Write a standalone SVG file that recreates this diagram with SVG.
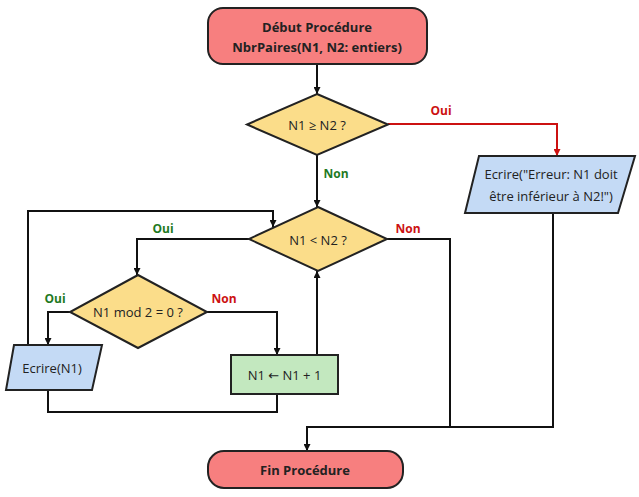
<svg xmlns="http://www.w3.org/2000/svg" width="639" height="497" viewBox="0 0 639 497">
<defs>
<marker id="ah" viewBox="0 0 10 10" refX="10" refY="5" markerWidth="7" markerHeight="7" orient="auto" markerUnits="userSpaceOnUse"><path d="M0,0 L10,5 L0,10 z" fill="#111"/></marker>
<marker id="ahr" viewBox="0 0 10 10" refX="10" refY="5" markerWidth="7" markerHeight="7" orient="auto" markerUnits="userSpaceOnUse"><path d="M0,0 L10,5 L0,10 z" fill="#cc1111"/></marker>
</defs>
<style>
text{font-family:"Open Sans","Noto Sans","DejaVu Sans",sans-serif;font-size:13px;fill:#222;text-anchor:middle;dominant-baseline:central}
.term{fill:#f77f7f;stroke:#222;stroke-width:2}
.dec{fill:#fbdd8a;stroke:#222;stroke-width:2}
.io{fill:#c4daf5;stroke:#222;stroke-width:2}
.proc{fill:#c3e8bf;stroke:#222;stroke-width:2}
.b{font-weight:bold}
.c{fill:none;stroke:#111;stroke-width:2}
.cr{fill:none;stroke:#cc1111;stroke-width:2}
.lg{fill:#1f7a1f;font-weight:bold;font-size:12px}
.lr{fill:#cc1111;font-weight:bold;font-size:12px}
</style>
<rect width="639" height="497" fill="#fff"/>
<g id="connectors">
<path class="c" d="M317,64 V94" marker-end="url(#ah)"/>
<path class="cr" d="M388,124 H557 V156" marker-end="url(#ahr)"/>
<path class="c" d="M317,155 V207" marker-end="url(#ah)"/>
<path class="c" d="M249,239 H137 V275" marker-end="url(#ah)"/>
<path class="c" d="M70,312 H48 V345" marker-end="url(#ah)"/>
<path class="c" d="M207,312 H277 V355" marker-end="url(#ah)"/>
<path class="c" d="M28,345 V211 H273 V227" marker-end="url(#ah)"/>
<path class="c" d="M48,390 V412 H277 V395"/>
<path class="c" d="M317,355 V271" marker-end="url(#ah)"/>
<path class="c" d="M387,239 H450 V427"/>
<path class="c" d="M553,213 V427 H307 V451" marker-end="url(#ah)"/>
<text class="lr" x="441" y="110">Oui</text>
<text class="lg" x="336" y="173">Non</text>
<text class="lr" x="408" y="228">Non</text>
<text class="lg" x="163" y="228">Oui</text>
<text class="lg" x="55" y="298">Oui</text>
<text class="lr" x="224" y="298">Non</text>
</g>
<g id="start">
<rect class="term" x="208" y="8" width="219" height="56" rx="15"/>
<text class="b" x="317" y="27">Début Procédure</text>
<text class="b" x="317" y="47">NbrPaires(N1, N2: entiers)</text>
</g>
<g id="dec1">
<polygon class="dec" points="317,94 388,124.5 317,155 247,124.5"/>
<text x="317" y="125">N1 ≥ N2 ?</text>
</g>
<g id="err">
<polygon class="io" points="479,156 635,156 618,213 465,213"/>
<text x="551" y="174">Ecrire("Erreur: N1 doit</text>
<text x="551" y="196">être inférieur à N2!")</text>
</g>
<g id="dec2">
<polygon class="dec" points="318,207 387,239 318,271 249,239"/>
<text x="318" y="240">N1 &lt; N2 ?</text>
</g>
<g id="dec3">
<polygon class="dec" points="138,275 207,312 138,348 70,312"/>
<text x="138" y="312">N1 mod 2 = 0 ?</text>
</g>
<g id="print">
<polygon class="io" points="14,345 102,345 92,390 6,390"/>
<text x="52" y="368">Ecrire(N1)</text>
</g>
<g id="inc">
<rect class="proc" x="231" y="355" width="107" height="39"/>
<text x="284.5" y="375">N1 ← N1 + 1</text>
</g>
<g id="end">
<rect class="term" x="208" y="451" width="195" height="37" rx="16"/>
<text class="b" x="305" y="470">Fin Procédure</text>
</g>
</svg>
